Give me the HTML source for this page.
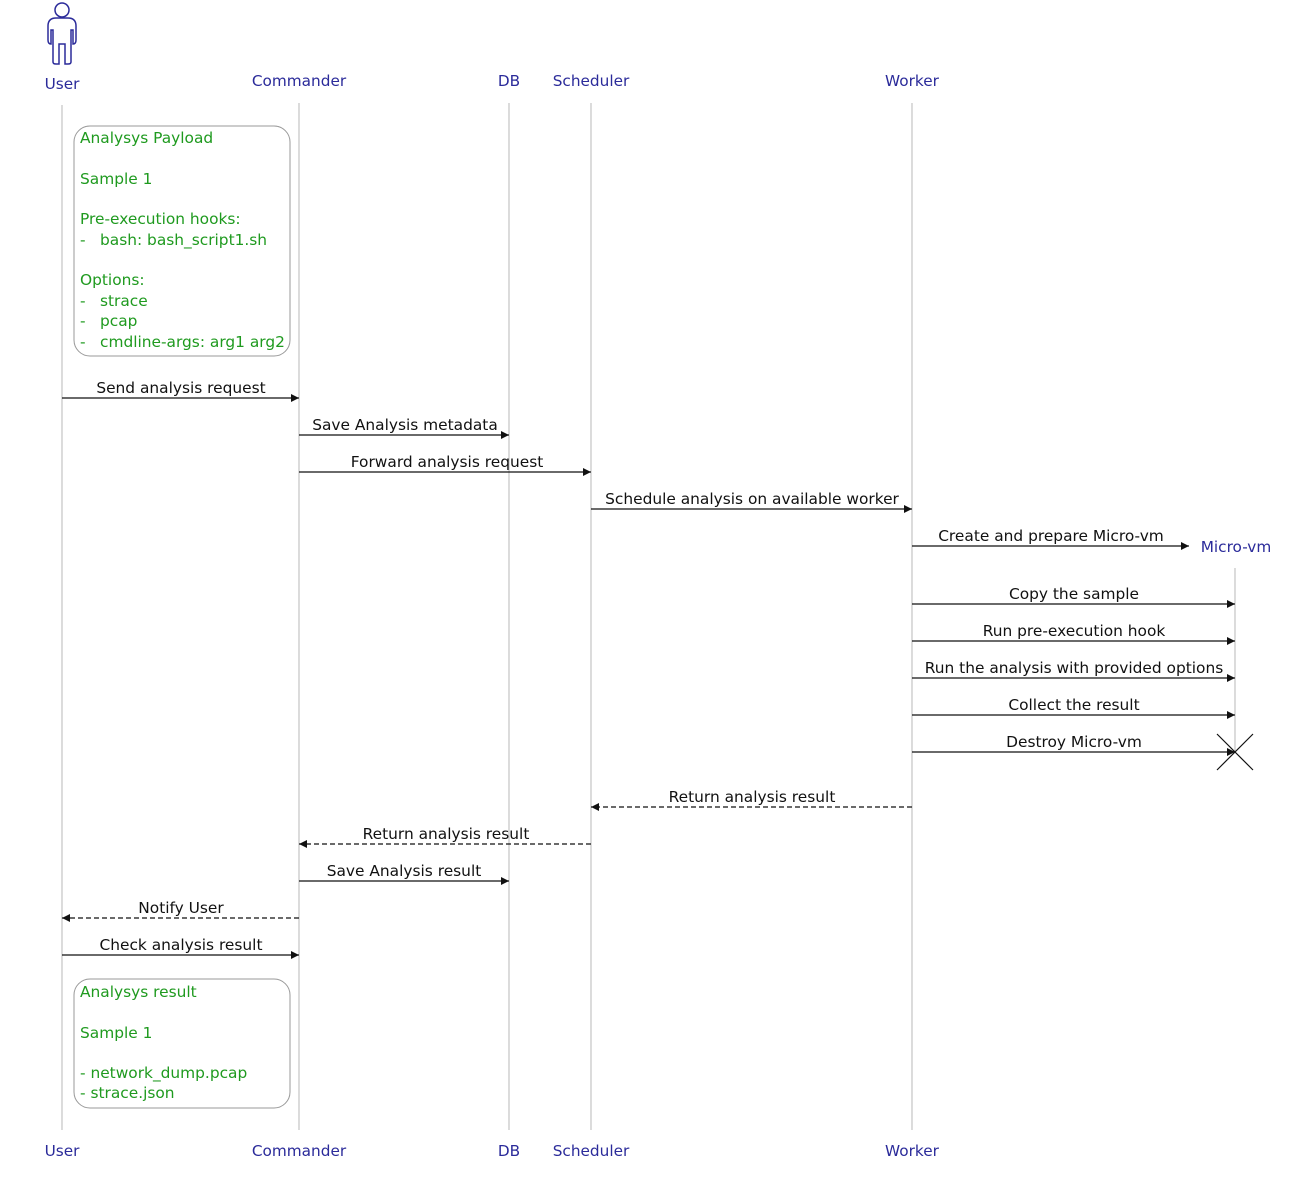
<!DOCTYPE html>
<html><head><meta charset="utf-8"><style>
html,body{margin:0;padding:0;background:#fff}
svg{display:block;font-family:"DejaVu Sans","Liberation Sans",sans-serif}
.h{fill:#2b2b9a;font-size:15.3px;text-anchor:middle}
.m{fill:#111;font-size:15.4px;text-anchor:middle}
.g{fill:#1f9a1f;font-size:15.4px}
.ll{stroke:#c8c8c8;stroke-width:1.3}
.a{stroke:#111;stroke-width:1.2;fill:none}
.d{stroke:#111;stroke-width:1.2;stroke-dasharray:5,3;fill:none}
</style></head><body>
<svg width="1291" height="1177" viewBox="0 0 1291 1177">
<defs><marker id="ar" markerWidth="9" markerHeight="10" refX="8" refY="5" orient="auto" markerUnits="userSpaceOnUse"><path d="M0,1 L8,5 L0,9 Z" fill="#111"/></marker></defs>
<g stroke="#2b2b9a" stroke-width="1.5" fill="none">
<circle cx="62" cy="10" r="7"/>
<path d="M56,18 L68,18 Q76,18 76,26 L76,40 Q76,44 73,44 L73,30 L71,30 L71,62 Q71,64 68,64 L65,64 L65,44 L59,44 L59,64 L56,64 Q53,64 53,62 L53,30 L51,30 L51,44 Q48,44 48,40 L48,26 Q48,18 56,18 Z"/>
</g>
<text class="h" x="62" y="89">User</text>
<text class="h" x="299" y="86">Commander</text>
<text class="h" x="509" y="86">DB</text>
<text class="h" x="591" y="86">Scheduler</text>
<text class="h" x="912" y="86">Worker</text>
<text class="h" x="1236" y="552">Micro-vm</text>
<text class="h" x="62" y="1156">User</text>
<text class="h" x="299" y="1156">Commander</text>
<text class="h" x="509" y="1156">DB</text>
<text class="h" x="591" y="1156">Scheduler</text>
<text class="h" x="912" y="1156">Worker</text>
<line class="ll" x1="62" y1="105" x2="62" y2="1130"/>
<line class="ll" x1="299" y1="103" x2="299" y2="1130"/>
<line class="ll" x1="509" y1="103" x2="509" y2="1130"/>
<line class="ll" x1="591" y1="103" x2="591" y2="1130"/>
<line class="ll" x1="912" y1="103" x2="912" y2="1130"/>
<line class="ll" x1="1235" y1="568" x2="1235" y2="752"/>
<rect x="74" y="126" width="216" height="230" rx="16" fill="#fff" stroke="#999" stroke-width="1"/>
<g class="g">
<text x="80" y="143">Analysys Payload</text>
<text x="80" y="184">Sample 1</text>
<text x="80" y="224">Pre-execution hooks:</text>
<text x="80" y="245">-</text><text x="100" y="245">bash: bash_script1.sh</text>
<text x="80" y="285">Options:</text>
<text x="80" y="306">-</text><text x="100" y="306">strace</text>
<text x="80" y="326">-</text><text x="100" y="326">pcap</text>
<text x="80" y="347">-</text><text x="100" y="347">cmdline-args: arg1 arg2</text>
</g>
<rect x="74" y="979" width="216" height="129" rx="16" fill="#fff" stroke="#999" stroke-width="1"/>
<g class="g">
<text x="80" y="997">Analysys result</text>
<text x="80" y="1038">Sample 1</text>
<text x="80" y="1078">- network_dump.pcap</text>
<text x="80" y="1098">- strace.json</text>
</g>
<text class="m" x="181" y="393">Send analysis request</text><line class="a" x1="62" y1="398" x2="299" y2="398" marker-end="url(#ar)"/>
<text class="m" x="405" y="430">Save Analysis metadata</text><line class="a" x1="299" y1="435" x2="509" y2="435" marker-end="url(#ar)"/>
<text class="m" x="447" y="467">Forward analysis request</text><line class="a" x1="299" y1="472" x2="591" y2="472" marker-end="url(#ar)"/>
<text class="m" x="752" y="504">Schedule analysis on available worker</text><line class="a" x1="591" y1="509" x2="912" y2="509" marker-end="url(#ar)"/>
<text class="m" x="1051" y="541">Create and prepare Micro-vm</text><line class="a" x1="912" y1="546" x2="1189" y2="546" marker-end="url(#ar)"/>
<text class="m" x="1074" y="599">Copy the sample</text><line class="a" x1="912" y1="604" x2="1235" y2="604" marker-end="url(#ar)"/>
<text class="m" x="1074" y="636">Run pre-execution hook</text><line class="a" x1="912" y1="641" x2="1235" y2="641" marker-end="url(#ar)"/>
<text class="m" x="1074" y="673">Run the analysis with provided options</text><line class="a" x1="912" y1="678" x2="1235" y2="678" marker-end="url(#ar)"/>
<text class="m" x="1074" y="710">Collect the result</text><line class="a" x1="912" y1="715" x2="1235" y2="715" marker-end="url(#ar)"/>
<text class="m" x="1074" y="747">Destroy Micro-vm</text><line class="a" x1="912" y1="752" x2="1235" y2="752" marker-end="url(#ar)"/>
<path d="M1217,734 L1253,770 M1253,734 L1217,770" stroke="#111" stroke-width="1.2"/>
<text class="m" x="752" y="802">Return analysis result</text><line class="d" x1="912" y1="807" x2="591" y2="807" marker-end="url(#ar)"/>
<text class="m" x="446" y="839">Return analysis result</text><line class="d" x1="591" y1="844" x2="299" y2="844" marker-end="url(#ar)"/>
<text class="m" x="404" y="876">Save Analysis result</text><line class="a" x1="299" y1="881" x2="509" y2="881" marker-end="url(#ar)"/>
<text class="m" x="181" y="913">Notify User</text><line class="d" x1="299" y1="918" x2="62" y2="918" marker-end="url(#ar)"/>
<text class="m" x="181" y="950">Check analysis result</text><line class="a" x1="62" y1="955" x2="299" y2="955" marker-end="url(#ar)"/>
</svg>
</body></html>
